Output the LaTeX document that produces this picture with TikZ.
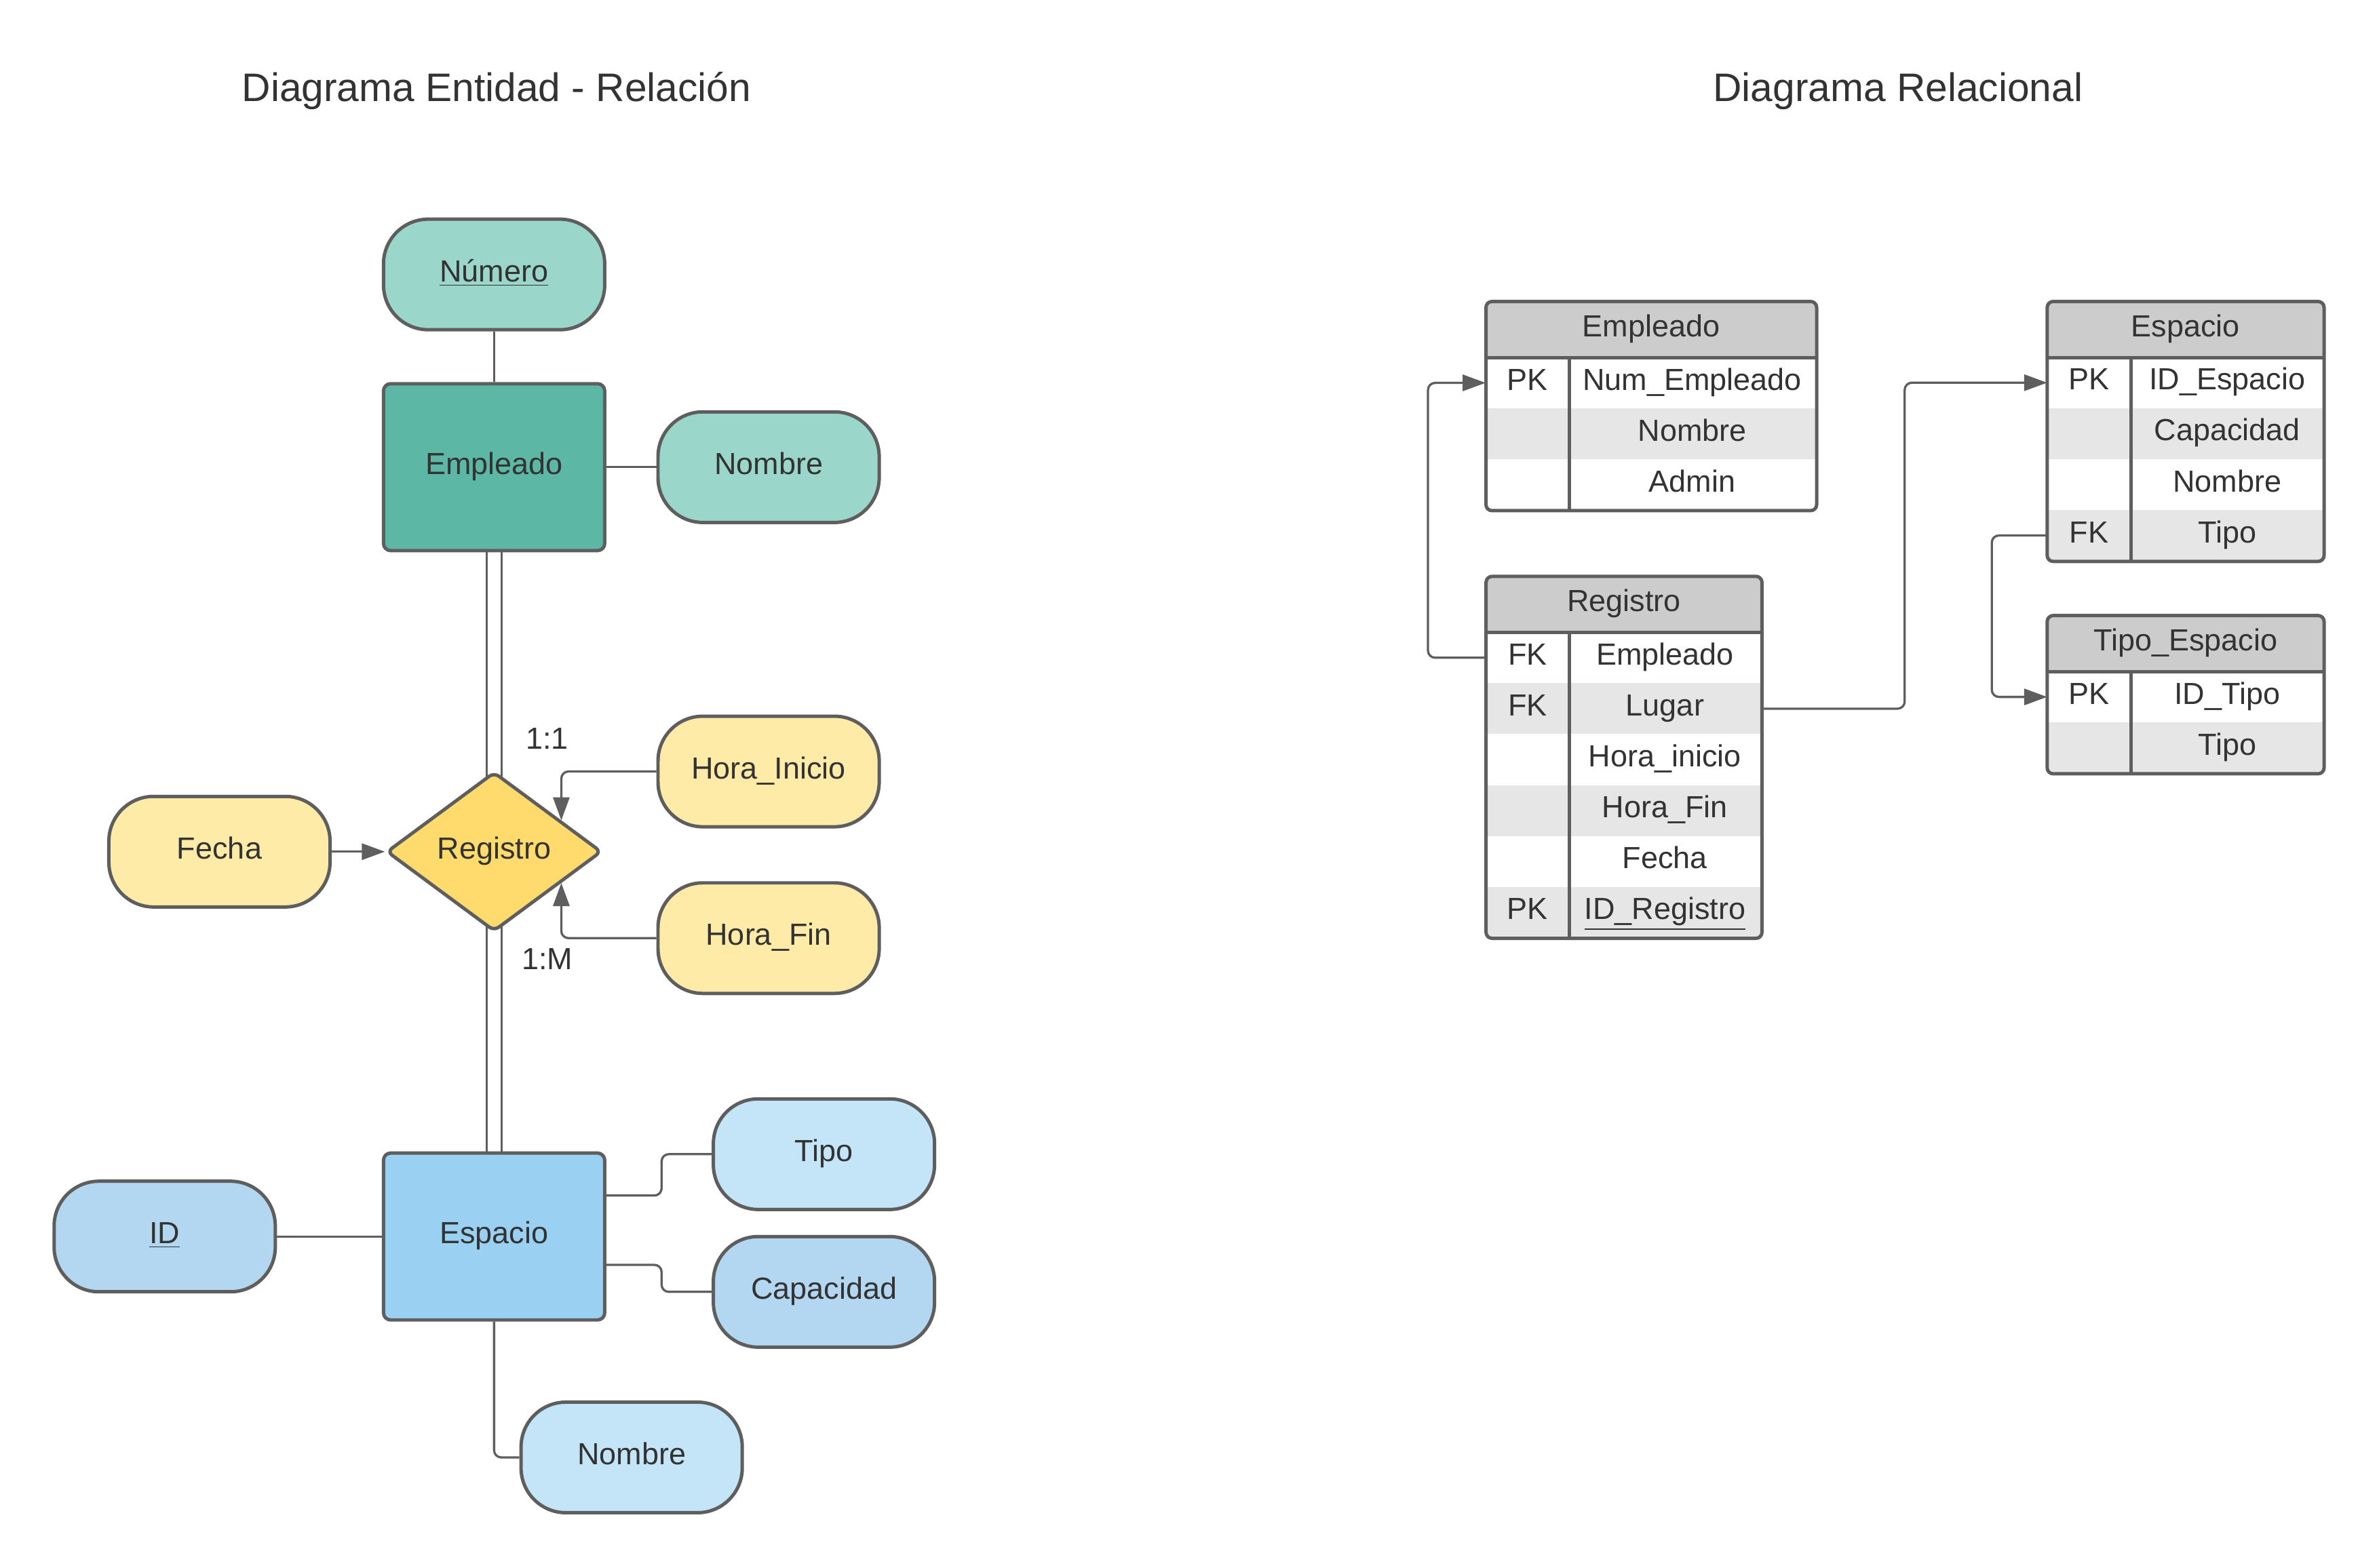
\documentclass[tikz,border=0pt]{standalone}
\usepackage{fontspec}
\setmainfont{Liberation Sans}
\usetikzlibrary{shapes.geometric,arrows.meta,calc,backgrounds}

\definecolor{linegray}{HTML}{5E5E5E}
\definecolor{txtgray}{HTML}{333333}
\definecolor{tealdark}{HTML}{5CB8A5}
\definecolor{teallight}{HTML}{9BD6CA}
\definecolor{yellowlight}{HTML}{FFEBA8}
\definecolor{yellowdark}{HTML}{FFDB6E}
\definecolor{bluedark}{HTML}{9AD1F2}
\definecolor{bluemid}{HTML}{B3D7F1}
\definecolor{bluelight}{HTML}{C4E4F7}
\definecolor{headgray}{HTML}{CCCCCC}
\definecolor{rowgray}{HTML}{E6E6E6}

\tikzset{
  txt/.style={text=txtgray, font=\fontsize{12.8}{15}\selectfont, text height=9.2pt, text depth=3.2pt},
  attr/.style={txt, draw=linegray, line width=1.42pt, rounded corners=0.66cm, minimum width=3.26cm, minimum height=1.63cm},
  entity/.style={txt, draw=linegray, line width=1.42pt, rounded corners=3pt, minimum width=3.26cm, minimum height=2.46cm},
  relation/.style={txt, diamond, draw=linegray, line width=1.42pt, rounded corners=2.5pt, minimum width=3.17cm, minimum height=2.35cm, inner sep=0pt},
  link/.style={draw=linegray, line width=0.94pt, rounded corners=3pt},
  arr/.style={link, -{Triangle[length=0.34cm,width=0.24cm]}},
  twin/.style={draw=linegray, line width=0.94pt, double=white, double distance=0.183cm},
  tabhead/.style={txt, fill=headgray, minimum height=0.816cm, inner sep=0pt},
  keycell/.style={txt, minimum width=1.223cm, minimum height=0.751cm, inner sep=0pt},
  fieldcell/.style={txt, minimum height=0.751cm, inner sep=0pt},
  shaded/.style={fill=rowgray},
  tabframe/.style={draw=linegray, line width=1.42pt, rounded corners=2.5pt},
  title/.style={text=txtgray, font=\fontsize{16.7}{20}\selectfont}
}

\begin{document}
\begin{tikzpicture}[x=0.02248cm, y=-0.02248cm]
\useasboundingbox (0,0) rectangle (1560,1028);

\node[title] (titleER) at (325.6,59.7) {Diagrama Entidad - Relación};
\node[title] (titleRel) at (1244.6,59.7) {Diagrama Relacional};

\node[attr, fill=teallight] (numero) at (324,180) {\underline{Número}};
\node[entity, fill=tealdark] (empleado) at (324,306.4) {Empleado};
\node[attr, fill=teallight] (nombreE) at (504,306.4) {Nombre};
\node[relation, fill=yellowdark] (registro) at (324,558.6) {Registro};
\node[attr, fill=yellowlight] (horaI) at (504,506) {Hora\_Inicio};
\node[attr, fill=yellowlight] (horaF) at (504,615.3) {Hora\_Fin};
\node[attr, fill=yellowlight] (fecha) at (143.9,558.6) {Fecha};
\node[entity, fill=bluedark] (espacio) at (324,811) {Espacio};
\node[attr, fill=bluemid] (idE) at (108,811) {\underline{ID}};
\node[attr, fill=bluelight] (tipo) at (540.3,757) {Tipo};
\node[attr, fill=bluemid] (capacidad) at (540.3,847.3) {Capacidad};
\node[attr, fill=bluelight] (nombreS) at (414.2,955.9) {Nombre};

\node[txt] (card1) at (358.8,486.5) {1:1};
\node[txt] (cardM) at (358.9,631) {1:M};

\begin{scope}[on background layer]
\fill[white] (0,0) rectangle (1560,1028);
\draw[twin] (empleado.center) -- (registro.center);
\draw[twin] (registro.center) -- (espacio.center);
\end{scope}

\draw[link] (numero) -- (empleado);
\draw[link] (empleado) -- (nombreE);
\draw[arr] (fecha) -- (registro);
\draw[arr] (horaI.west) -| (registro.25);
\draw[arr] (horaF.west) -| (registro.-25);
\draw[link] (idE) -- (espacio);
\draw[link] ($(espacio.east)+(0,-26.9)$) -- ++(36.2,0) |- (tipo.west);
\draw[link] ($(espacio.east)+(0,18.6)$) -- ++(36.2,0) |- (capacidad.west);
\draw[link] (espacio.south) |- (nombreS.west);

\node[tabhead, minimum width=4.858cm] (empH) at (1082.8,216.2) {Empleado};
\node[keycell] (empK1) at (1001.7,251.1) {PK};
\node[fieldcell, minimum width=3.651cm] (empF1) at (1109.7,251.1) {Num\_Empleado};
\node[keycell, shaded] (empK2) at (1001.7,284.5) {};
\node[fieldcell, shaded, minimum width=3.651cm] (empF2) at (1109.7,284.5) {Nombre};
\node[keycell] (empK3) at (1001.7,317.9) {};
\node[fieldcell, minimum width=3.651cm] (empF3) at (1109.7,317.9) {Admin};
\draw[tabframe] (empH.north west) rectangle (empF3.south east);
\draw[tabframe] (empH.south west) -- (empH.south east);
\draw[tabframe] (empK1.north east) -- (empK3.south east);

\node[tabhead, minimum width=4.051cm] (regH) at (1064.9,396.5) {Registro};
\node[keycell] (regK1) at (1001.7,431.4) {FK};
\node[fieldcell, minimum width=2.844cm] (regF1) at (1091.8,431.4) {Empleado};
\node[keycell, shaded] (regK2) at (1001.7,464.8) {FK};
\node[fieldcell, shaded, minimum width=2.844cm] (regF2) at (1091.8,464.8) {Lugar};
\node[keycell] (regK3) at (1001.7,498.2) {};
\node[fieldcell, minimum width=2.844cm] (regF3) at (1091.8,498.2) {Hora\_inicio};
\node[keycell, shaded] (regK4) at (1001.7,531.6) {};
\node[fieldcell, shaded, minimum width=2.844cm] (regF4) at (1091.8,531.6) {Hora\_Fin};
\node[keycell] (regK5) at (1001.7,565) {};
\node[fieldcell, minimum width=2.844cm] (regF5) at (1091.8,565) {Fecha};
\node[keycell, shaded] (regK6) at (1001.7,598.4) {PK};
\node[fieldcell, shaded, minimum width=2.844cm] (regF6) at (1091.8,598.4) {\underline{ID\_Registro}};
\draw[tabframe] (regH.north west) rectangle (regF6.south east);
\draw[tabframe] (regH.south west) -- (regH.south east);
\draw[tabframe] (regK1.north east) -- (regK6.south east);

\node[tabhead, minimum width=4.067cm] (espH) at (1433.2,216.2) {Espacio};
\node[keycell] (espK1) at (1369.9,251) {PK};
\node[fieldcell, minimum width=2.844cm] (espF1) at (1460.4,251) {ID\_Espacio};
\node[keycell, shaded] (espK2) at (1369.9,284.4) {};
\node[fieldcell, shaded, minimum width=2.844cm] (espF2) at (1460.4,284.4) {Capacidad};
\node[keycell] (espK3) at (1369.9,317.8) {};
\node[fieldcell, minimum width=2.844cm] (espF3) at (1460.4,317.8) {Nombre};
\node[keycell, shaded] (espK4) at (1369.9,351.2) {FK};
\node[fieldcell, shaded, minimum width=2.844cm] (espF4) at (1460.4,351.2) {Tipo};
\draw[tabframe] (espH.north west) rectangle (espF4.south east);
\draw[tabframe] (espH.south west) -- (espH.south east);
\draw[tabframe] (espK1.north east) -- (espK4.south east);

\node[tabhead, minimum width=4.067cm] (tipH) at (1433.2,422.2) {Tipo\_Espacio};
\node[keycell] (tipK1) at (1369.9,457.1) {PK};
\node[fieldcell, minimum width=2.844cm] (tipF1) at (1460.4,457.1) {ID\_Tipo};
\node[keycell, shaded] (tipK2) at (1369.9,490.5) {};
\node[fieldcell, shaded, minimum width=2.844cm] (tipF2) at (1460.4,490.5) {Tipo};
\draw[tabframe] (tipH.north west) rectangle (tipF2.south east);
\draw[tabframe] (tipH.south west) -- (tipH.south east);
\draw[tabframe] (tipK1.north east) -- (tipK2.south east);

\draw[arr] (regK1.west) -- ++(-37.8,0) |- (empK1.west);
\draw[arr] (regF2.east) -- ++(93.6,0) |- (espK1.west);
\draw[arr] (espK4.west) -- ++(-36.3,0) |- (tipK1.west);
\end{tikzpicture}
\end{document}
